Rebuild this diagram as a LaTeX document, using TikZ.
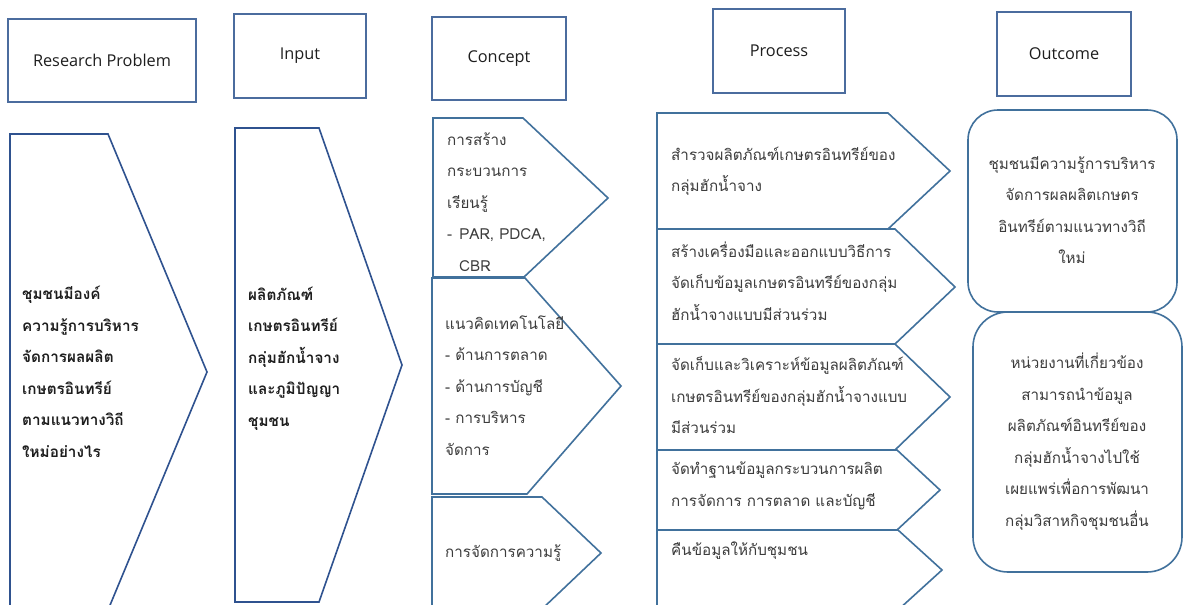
\documentclass[tikz,border=0pt]{standalone}
\usepackage{fontspec}
\setmainfont[Script=Thai]{Loma}
\newfontfamily\latfont{Open Sans}
\definecolor{darkline}{RGB}{47,82,143}
\definecolor{midline}{RGB}{65,113,156}
\definecolor{hdrline}{RGB}{75,108,158}
\definecolor{txtgray}{RGB}{60,60,60}
\definecolor{txtdark}{RGB}{30,30,30}
\begin{document}
\begin{tikzpicture}[x=1pt,y=-1pt,
  hdr/.style={draw=hdrline, line width=1.6pt, inner sep=0pt, font=\latfont\fontsize{16.3pt}{19pt}\selectfont, text=txtdark},
  darkshape/.style={draw=darkline, line width=1.6pt, line join=miter},
  midshape/.style={draw=midline, line width=1.6pt, line join=miter},
  boldtxt/.style={anchor=west, align=left, inner sep=0pt, text=txtdark, font=\bfseries\fontsize{15.3pt}{31.5pt}\selectfont},
  regtxt/.style={anchor=west, align=left, inner sep=0pt, text=txtgray, font=\fontsize{15.2pt}{31.5pt}\selectfont},
  ctrtxt/.style={align=center, inner sep=0pt, text=txtgray, font=\fontsize{15.2pt}{31.5pt}\selectfont}]
\useasboundingbox (0,0) rectangle (1184,605);
\clip (0,0) rectangle (1184,605);
\fill[white] (0,0) rectangle (1184,605);
% headers
\node[hdr, minimum width=188pt, minimum height=83pt] (hRP) at (102,60.5) {Research Problem};
\node[hdr, minimum width=132pt, minimum height=84pt] (hIN) at (300,56) {Input};
\node[hdr, minimum width=134pt, minimum height=83pt] (hCO) at (499,58.5) {Concept};
\node[hdr, minimum width=132pt, minimum height=84pt] (hPR) at (779,51) {Process};
\node[hdr, minimum width=134pt, minimum height=84pt] (hOU) at (1064,54) {Outcome};
% research problem & input arrows
\draw[darkshape] (10,134) -- (108,134) -- (207,372) -- (108,610) -- (10,610) -- cycle;
\draw[darkshape] (235,128) -- (319,128) -- (402,365) -- (319,602) -- (235,602) -- cycle;
% concept arrows
\draw[midshape] (433,118) -- (523,118) -- (608,198) -- (524,277) -- (433,277) -- cycle;
\draw[midshape] (432,278) -- (525,278) -- (621,386) -- (527,494) -- (432,494) -- cycle;
\draw[midshape] (432,497) -- (542,497) -- (601,553) -- (542,609) -- (432,609) -- cycle;
% process arrows
\draw[midshape] (657,113) -- (888,113) -- (950,171) -- (888,229) -- (657,229) -- cycle;
\draw[midshape] (657,229) -- (895,229) -- (955,287) -- (895,344) -- (657,344) -- cycle;
\draw[midshape] (657,344) -- (895,344) -- (950,397) -- (895,450) -- (657,450) -- cycle;
\draw[midshape] (657,450) -- (897,450) -- (940,490) -- (897,530) -- (657,530) -- cycle;
\draw[midshape] (657,530) -- (898,530) -- (942,570) -- (898,610) -- (657,610) -- cycle;
% outcome boxes
\draw[midshape, rounded corners=30pt] (968,110) rectangle (1177,312);
\draw[midshape, rounded corners=35pt] (973,312) rectangle (1182,572);
% texts
\node[boldtxt] (tRP) at (22,372) {ชุมชนมีองค์\\ความรู้การบริหาร\\จัดการผลผลิต\\เกษตรอินทรีย์\\ตามแนวทางวิถี\\ใหม่อย่างไร};
\node[boldtxt] (tIN) at (248,358.5) {ผลิตภัณฑ์\\เกษตรอินทรีย์\\กลุ่มฮักน้ำจาง\\และภูมิปัญญา\\ชุมชน};
\node[regtxt] (tC1) at (447,202) {การสร้าง\\กระบวนการ\\เรียนรู้\\-\hspace*{7pt}PAR, PDCA,\\\hspace*{12pt}CBR};
\node[regtxt] (tC2) at (445,385.5) {แนวคิดเทคโนโลยี\\- ด้านการตลาด\\- ด้านการบัญชี\\- การบริหาร\\จัดการ};
\node[regtxt] (tC3) at (445,553) {การจัดการความรู้};
\node[regtxt] (tP1) at (671,171.5) {สำรวจผลิตภัณฑ์เกษตรอินทรีย์ของ\\กลุ่มฮักน้ำจาง};
\node[regtxt] (tP2) at (671,281) {สร้างเครื่องมือและออกแบบวิธีการ\\จัดเก็บข้อมูลเกษตรอินทรีย์ของกลุ่ม\\ฮักน้ำจางแบบมีส่วนร่วม};
\node[regtxt] (tP3) at (671,395.5) {จัดเก็บและวิเคราะห์ข้อมูลผลิตภัณฑ์\\เกษตรอินทรีย์ของกลุ่มฮักน้ำจางแบบ\\มีส่วนร่วม};
\node[regtxt] (tP4) at (671,486) {จัดทำฐานข้อมูลกระบวนการผลิต\\การจัดการ การตลาด และบัญชี};
\node[regtxt] (tP5) at (671,551) {คืนข้อมูลให้กับชุมชน};
\node[ctrtxt] (tO1) at (1072,210) {ชุมชนมีความรู้การบริหาร\\จัดการผลผลิตเกษตร\\อินทรีย์ตามแนวทางวิถี\\ใหม่};
\node[ctrtxt] (tO2) at (1077,441.5) {หน่วยงานที่เกี่ยวข้อง\\สามารถนำข้อมูล\\ผลิตภัณฑ์อินทรีย์ของ\\กลุ่มฮักน้ำจางไปใช้\\เผยแพร่เพื่อการพัฒนา\\กลุ่มวิสาหกิจชุมชนอื่น};
\end{tikzpicture}
\end{document}
